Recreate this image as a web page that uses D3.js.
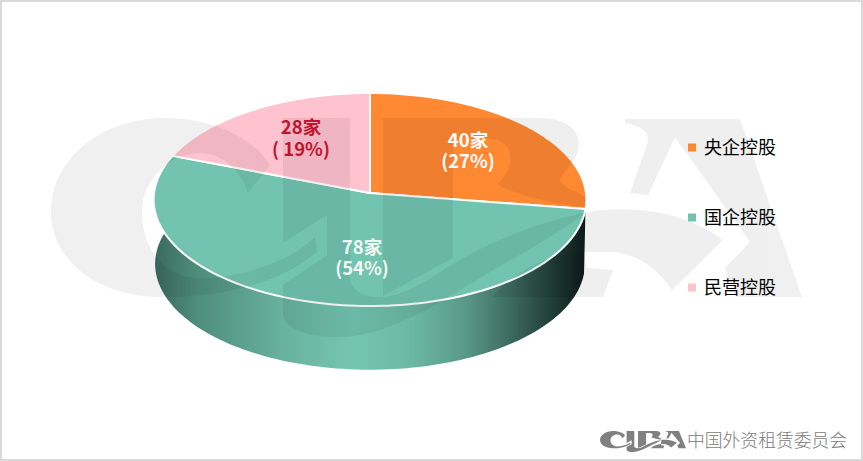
<!DOCTYPE html>
<html lang="zh">
<head>
<meta charset="utf-8">
<script src="https://cdn.jsdelivr.net/npm/d3@7"></script>
<style>
html,body{margin:0;padding:0;background:#fff;overflow:hidden}
svg{display:block}
text{font-family:"Noto Sans CJK SC","Noto Sans",sans-serif}
</style>
</head>
<body>
<svg id="chart" width="863" height="461"></svg>
<script>
const categories = ["央企控股", "国企控股", "民营控股"];
const companyCounts = [40, 78, 28];
const countLabels = ["40家", "78家", "28家"];
const shareLabels = ["(27%)", "(54%)", "( 19%)"];
const sliceColors = ["#ff8833", "#72c4b0", "#ffc2cf"];
const labelColors = ["#ffffff", "#f2f7f4", "#c0152f"];
const footerText = "中国外资租赁委员会";

const svg = d3.select("#chart");
const defs = svg.append("defs");

const perspective = 0.061;
const xUnit = d3.scaleLinear().domain([-1, 1]).range([154, 586]);
const yUnit = d3.scaleLinear().domain([-1, 1]).range([86.9, 299.1]);
const project = (theta, scale = 1, drop = 0) => {
  const w = 1 + perspective * Math.cos(theta);
  const cx = xUnit(0), cy = yUnit(0);
  return [
    cx + (xUnit(Math.sin(theta) / w) - cx) * scale,
    cy + (yUnit(-Math.cos(theta) / w) - cy) * scale + drop
  ];
};
const line = d3.line();
const sweep = (a, b) => d3.range(0, 121).map(i => a + (b - a) * i / 120);

const arcs = d3.pie().sort(null).startAngle(0).endAngle(2 * Math.PI)(companyCounts);

svg.append("rect").attr("x", 1).attr("y", 1).attr("width", 861).attr("height", 459)
  .attr("fill", "#fff").attr("stroke", "#d9d9d9").attr("stroke-width", 2);

// wall under the largest slice
const wallStops = [[0, "#3a6a5d"], [0.1, "#4f8e7d"], [0.3, "#68b29f"], [0.46, "#74c6b2"], [0.6, "#6bb8a5"],
  [0.72, "#5a9a8a"], [0.82, "#3f6e62"], [0.92, "#22403a"], [1, "#0e1c19"]];
const grad = defs.append("linearGradient").attr("id", "wall")
  .attr("gradientUnits", "userSpaceOnUse").attr("x1", 155).attr("x2", 584).attr("y1", 0).attr("y2", 0);
grad.selectAll("stop").data(wallStops).join("stop")
  .attr("offset", d => d[0]).attr("stop-color", d => d[1]);

const wallArc = arcs[1];
const wallTop = sweep(wallArc.startAngle, wallArc.endAngle).map(t => project(t));
const wallBottom = sweep(wallArc.endAngle, wallArc.startAngle).map(t => project(t, 0.993, 64.5));
svg.append("path").attr("d", line(wallTop.concat(wallBottom)) + "Z").attr("fill", "url(#wall)");

// slices
svg.append("g").selectAll("path").data(arcs).join("path")
  .attr("d", d => line([[xUnit(0), yUnit(0)]].concat(sweep(d.startAngle, d.endAngle).map(t => project(t)))) + "Z")
  .attr("fill", (d, i) => sliceColors[i])
  .attr("stroke", "#fff").attr("stroke-width", 2).attr("stroke-linejoin", "round");

// CIBA logo shapes
const logoShapes = [
  "M270,165 C250,135 210,118 165,118 C100,118 51,160 51,212 C51,262 100,297 160,297 C210,297 270,290 317,252 L315,237 C290,262 240,278 200,278 C165,278 142,250 142,212 C142,180 170,153 200,153 C222,153 240,170 248,193 Z",
  "M283,118 L350,118 L350,282 C356,293 365,297 378,297 C400,297 420,285 440,272 C490,240 540,222 587,212 C560,232 525,252 490,272 C450,296 390,337 340,337 C310,337 283,330 283,313 L283,285 L327,255 L327,215 L283,243 Z",
  "M383,118 L540,118 C568,118 582,132 578,150 C575,165 562,170 560,181 C566,190 580,192 586,198 L586,208 C560,204 520,198 497,184 C508,175 514,160 508,148 C503,139 490,137 453,138 L453,258 L383,296 Z",
  "M587,212 C610,208 650,208 680,218 C698,224 712,232 723,240 L672,290 C660,272 640,254 613,252 L583,252 C550,254 515,270 493,297 L603,297 L613,270 L587,268 L583,252 Z",
  "M625,119 L740,119 L802,297 L737,297 L725,268 L750,242 L675,137 L648,195 L630,193 L648,142 C650,132 640,125 625,123 Z"
];
const drawLogo = (sel) => sel.selectAll("path").data(logoShapes).join("path").attr("d", d => d);

svg.append("g").attr("opacity", 0.06).attr("fill", "#000").call(drawLogo);

// labels on the slices: one text element with two lines
const labelAnchors = [[468, 140, 161], [362, 247, 268], [301, 127, 149]];
const sliceLabels = svg.append("g").attr("text-anchor", "middle")
  .attr("font-size", 18.5).attr("font-weight", 700);
countLabels.forEach((label, i) => {
  const t = sliceLabels.append("text").attr("fill", labelColors[i]);
  t.append("tspan").attr("x", labelAnchors[i][0]).attr("y", labelAnchors[i][1] + 6.5).text(label);
  t.append("tspan").attr("x", labelAnchors[i][0]).attr("y", labelAnchors[i][2] + 6.5).text(shareLabels[i]);
});

// legend
const legendY = d3.scalePoint().domain(categories).range([147.5, 287.5]);
const legend = svg.append("g").selectAll("g").data(categories).join("g")
  .attr("transform", d => `translate(688,${legendY(d)})`);
legend.append("rect").attr("y", -4).attr("width", 8).attr("height", 8)
  .attr("fill", (d, i) => sliceColors[i]);
legend.append("text").attr("x", 16).attr("dy", "0.36em").attr("font-size", 18)
  .attr("fill", "#000").text(d => d);

// footer mark
svg.append("g").attr("fill", "#808080")
  .attr("transform", "translate(594.2,419.7) scale(0.1145,0.096)").call(drawLogo);
svg.append("text").attr("x", 687).attr("y", 441).attr("dy", "0.36em")
  .attr("font-size", 17.8).attr("font-weight", 300).attr("fill", "#7a7a7a").text(footerText);
</script>
</body>
</html>
